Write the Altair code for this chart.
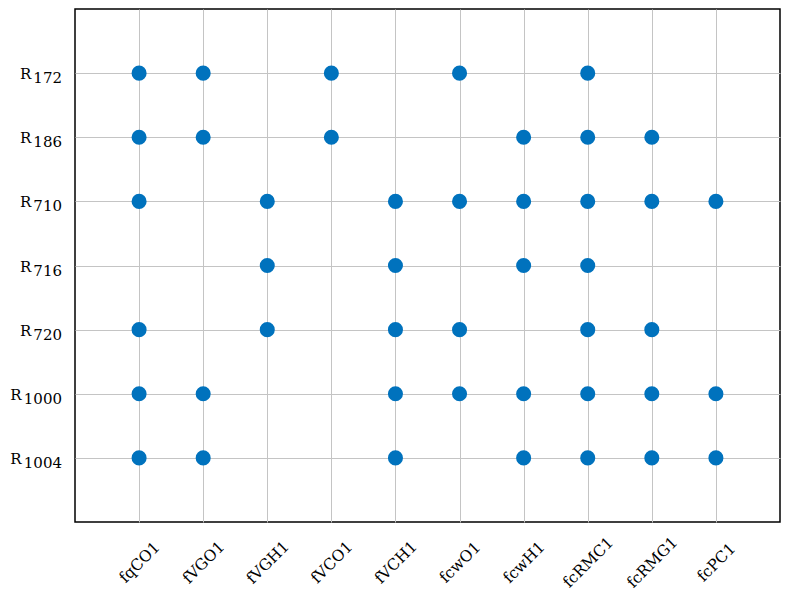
import altair as alt
import pandas as pd

cols = ["fqCO1", "fVGO1", "fVGH1", "fVCO1", "fVCH1", "fcwO1", "fcwH1", "fcRMC1", "fcRMG1", "fcPC1"]
row_nums = ["172", "186", "710", "716", "720", "1000", "1004"]
rows = ["R" + n for n in row_nums]

r172 = ["fqCO1", "fVGO1", "fVCO1", "fcwO1", "fcRMC1"]
r186 = ["fqCO1", "fVGO1", "fVCO1", "fcwH1", "fcRMC1", "fcRMG1"]
r710 = ["fqCO1", "fVGH1", "fVCH1", "fcwO1", "fcwH1", "fcRMC1", "fcRMG1", "fcPC1"]
r716 = ["fVGH1", "fVCH1", "fcwH1", "fcRMC1"]
r720 = ["fqCO1", "fVGH1", "fVCH1", "fcwO1", "fcRMC1", "fcRMG1"]
r1000 = ["fqCO1", "fVGO1", "fVCH1", "fcwO1", "fcwH1", "fcRMC1", "fcRMG1", "fcPC1"]
r1004 = ["fqCO1", "fVGO1", "fVCH1", "fcwH1", "fcRMC1", "fcRMG1", "fcPC1"]

members = [r172, r186, r710, r716, r720, r1000, r1004]
records = []
for rname, lst in zip(rows, members):
    for c in lst:
        records.append({"col": c, "row": rname})
df = pd.DataFrame(records)

lab = pd.DataFrame({"row": rows, "num": row_nums})

font = "DejaVu Serif"
grid = "#c4c4c4"

yscale = alt.Scale(type="point", domain=rows, padding=1)
yaxis = alt.Axis(title=None, labels=False, ticks=False, domain=False, grid=True,
                 gridColor=grid, gridWidth=1)

pts = alt.Chart(df).mark_circle(size=227, opacity=1, color="#0072BD").encode(
    x=alt.X("col:N", sort=cols, scale=alt.Scale(type="point", domain=cols, padding=1),
            axis=alt.Axis(title=None, labelAngle=-45, labelAlign="center", labelBaseline="middle",
                          labelPadding=40, tickSize=0, domain=False, grid=True,
                          gridColor=grid, gridWidth=1, labelFont=font, labelFontSize=15.5,
                          labelColor="#000000")),
    y=alt.Y("row:N", sort=rows, scale=yscale, axis=yaxis),
)

nums = alt.Chart(lab).mark_text(font=font, fontSize=15, align="right", baseline="middle",
                                dy=5, color="#000000").encode(
    x=alt.value(-13),
    y=alt.Y("row:N", sort=rows, scale=yscale, axis=yaxis),
    text="num:N",
)

rlab = alt.Chart(lab).transform_calculate(
    rx="-15 - 9.6 * length(datum.num)"
).mark_text(font=font, fontSize=15, align="right", baseline="middle", dy=1,
            color="#000000", text="R").encode(
    x=alt.X("rx:Q", scale=None, axis=None),
    y=alt.Y("row:N", sort=rows, scale=yscale, axis=yaxis),
)

chart = alt.layer(pts, nums, rlab).properties(
    width=705, height=513,
    autosize=alt.AutoSizeParams(type="none"),
    padding={"left": 67, "top": 1, "right": 4, "bottom": 70},
).configure_view(stroke="#000000", strokeWidth=1.5)

chart.save("out.html", embed_options={"renderer": "svg", "actions": False})
